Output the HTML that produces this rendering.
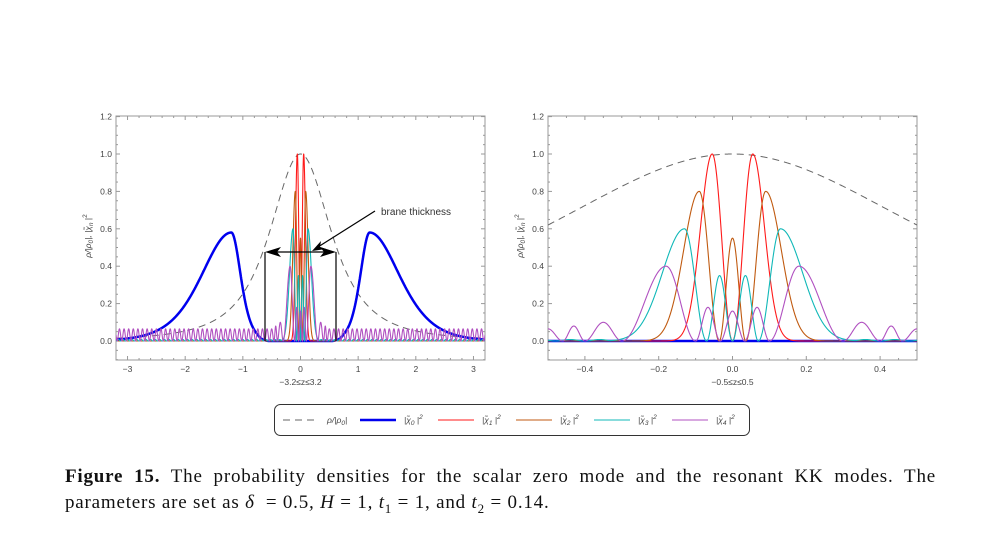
<!DOCTYPE html>
<html><head><meta charset="utf-8"><style>
body{margin:0;background:#fff;width:1002px;height:535px;overflow:hidden;position:relative;font-family:"Liberation Sans",sans-serif}
svg{position:absolute;left:0;top:0}
.cap{position:absolute;left:65px;width:871px;font-family:"Liberation Serif",serif;font-size:19px;letter-spacing:0.8px;color:#111;line-height:26px;white-space:nowrap}
</style></head><body>
<svg id="s" width="1002" height="535" xmlns="http://www.w3.org/2000/svg" font-family="Liberation Sans, sans-serif">
</svg>
<div class="cap" style="top:464px;text-align:justify;text-align-last:justify;white-space:normal"><b>Figure 15.</b> The probability densities for the scalar zero mode and the resonant KK modes. The</div>
<div class="cap" style="top:490px">parameters are set as <i>δ</i> &nbsp;= 0.5<i>, H</i> = 1<i>, t</i><sub style="font-size:13px">1</sub> = 1, and <i>t</i><sub style="font-size:13px">2</sub> = 0.14.</div>
<script>
const S=document.getElementById('s');let h='';
const Y0=341,YS=187;
function sq(x){return x*x;}
function rho(z){return Math.pow(1+1.5*z*z,-1.5);}
function blue(z){const a=Math.abs(z);if(a<1.2){const t=(a-1.2)/0.22;let v=0.58/sq(Math.cosh(t));if(a<0.75)v*=Math.max(0,(a-0.55)/0.2);return Math.max(0,v);}const t=(a-1.2)/0.7;return 0.58/sq(Math.cosh(t));}
function lobes(spec){return function(z){const a=Math.abs(z);
 for(const s of spec){if(a>=s[0]&&a<=s[1]){return s[2](a);}}return 0;};}
const sin2=(z0,z1,hh)=>a=>hh*sq(Math.sin(Math.PI*(a-z0)/(z1-z0)));
const rise=(z0,p,hh)=>a=>hh*sq(Math.sin(Math.PI/2*(a-z0)/(p-z0)));
const dec=(p,w,hh)=>a=>hh*Math.exp(-sq((a-p)/w));
const red=lobes([[0,0.055,rise(0,0.055,1)],[0.055,9,dec(0.055,0.045,1)]]);
const brown=lobes([[0,0.036,sin2(-0.036,0.036,0.55)],[0.036,0.09,rise(0.036,0.09,0.8)],[0.09,9,dec(0.09,0.06,0.8)]]);
const cyanT=a=>0.008*sq(Math.sin(Math.PI*a/0.08));
const cyan=lobes([[0,0.07,sin2(0,0.07,0.35)],[0.07,0.13,rise(0.07,0.13,0.6)],[0.13,9,a=>Math.max(dec(0.13,0.085,0.6)(a),a>0.3?cyanT(a):0)]]);
function purpleT(a){if(a<0.4)return sin2(0.3,0.4,0.1)(a);if(a<0.46)return sin2(0.4,0.46,0.08)(a);
 const p=0.08;return 0.065*sq(Math.sin(Math.PI*(a-0.46)/p));}
const purple=lobes([[0,0.033,sin2(-0.033,0.033,0.16)],[0.033,0.1,sin2(0.033,0.1,0.18)],[0.1,0.18,rise(0.1,0.18,0.4)],[0.18,0.3,a=>0.4*sq(Math.cos(Math.PI/2*(a-0.18)/0.12))],[0.3,99,purpleT]]);
function path(f,x0,x1,cx,sx,n){let d='';for(let i=0;i<=n;i++){const z=x0+(x1-x0)*i/n;const X=cx+z*sx,Y=Y0-f(z)*YS;d+=(i?'L':'M')+X.toFixed(2)+' '+Y.toFixed(2);}return d;}
function panel(L,R,zr,cx,ticks,minor,lab,ann){
 const sx=(R-L)/(2*zr);
 h+=`<defs><clipPath id="c${L}"><rect x="${L}" y="116" width="${R-L}" height="244"/></clipPath></defs>`;
 h+=`<rect x="${L}" y="116" width="${R-L}" height="244" fill="none" stroke="#999" stroke-width="1"/>`;
 h+=`<line x1="${L}" x2="${R}" y1="${Y0}" y2="${Y0}" stroke="#999"/>`;
 for(let k=-2;k<=24;k++){const v=k*0.05;const y=Y0-v*YS;const big=(k%4===0);
  h+=`<line x1="${L}" x2="${L+(big?4:2)}" y1="${y}" y2="${y}" stroke="#999"/><line x1="${R}" x2="${R-(big?4:2)}" y1="${y}" y2="${y}" stroke="#999"/>`;
  if(big&&k>=0)h+=`<text x="${L-4}" y="${y+3}" font-size="8.5" fill="#444" text-anchor="end">${v.toFixed(1)}</text>`;}
 for(const t of minor){const x=cx+t*sx;const big=ticks.some(k=>Math.abs(k-t)<1e-6);
  h+=`<line x1="${x}" x2="${x}" y1="360" y2="${360-(big?4:2)}" stroke="#999"/><line x1="${x}" x2="${x}" y1="116" y2="${116+(big?4:2)}" stroke="#999"/>`;}
 for(const t of ticks){const x=cx+t*sx;h+=`<text x="${x}" y="372" font-size="8.5" fill="#444" text-anchor="middle">${t<0?'−':''}${Math.abs(t).toFixed(zr<1?1:0)}</text>`;}
 h+=`<text x="${cx}" y="385" font-size="8.5" fill="#444" text-anchor="middle">${lab}</text>`;
 h+=`<text transform="translate(${L-25},236) rotate(-90)" font-size="8.5" fill="#444" text-anchor="middle" font-style="italic">ρ/|ρ<tspan font-size="6.5" dy="2">0</tspan><tspan dy="-2">|, |χ̃</tspan><tspan font-size="6.5" dy="2">n</tspan><tspan dy="-2" font-style="normal"> |</tspan><tspan font-size="6.5" dy="-4" font-style="normal">2</tspan></text>`;
 const n=zr>1?6000:1500;
 h+=`<g clip-path="url(#c${L})" fill="none" stroke-linejoin="round">`;
 h+=`<path d="${path(rho,-zr,zr,cx,sx,n)}" stroke="#666" stroke-width="1" stroke-dasharray="7,5"/>`;
 h+=`<path d="${path(blue,-zr,zr,cx,sx,n)}" stroke="#0000ee" stroke-width="2.5"/>`;
 h+=`<path d="${path(red,-zr,zr,cx,sx,n)}" stroke="#ff1a1a" stroke-width="1.1"/>`;
 h+=`<path d="${path(brown,-zr,zr,cx,sx,n)}" stroke="#c05a10" stroke-width="1.1"/>`;
 h+=`<path d="${path(cyan,-zr,zr,cx,sx,n)}" stroke="#10b8b8" stroke-width="1.1"/>`;
 h+=`<path d="${path(purple,-zr,zr,cx,sx,n)}" stroke="#b050c0" stroke-width="1.1"/>`;
 h+='</g>';
 if(ann){h+=`<g stroke="#000" stroke-width="1.2"><line x1="265" y1="252" x2="265" y2="341"/><line x1="336" y1="252" x2="336" y2="341"/><line x1="268" y1="252" x2="333" y2="252"/><line x1="375" y1="211" x2="318" y2="247"/></g>
 <polygon points="265,252 281,247 277,252 281,257" fill="#000"/><polygon points="336,252 320,247 324,252 320,257" fill="#000"/>
 <polygon points="312,251 321,241 320,247 326,249" fill="#000"/>
 <text x="381" y="215" font-size="10" fill="#333">brane thickness</text>`;}
}
const m1=[];for(let k=-16;k<=16;k++)m1.push(k/5);
panel(116,485,3.2,300.5,[-3,-2,-1,0,1,2,3],m1,'−3.2≤z≤3.2',true);
const m2=[];for(let k=-10;k<=10;k++)m2.push(k/20);
panel(548,917,0.5,732.5,[-0.4,-0.2,0,0.2,0.4],m2,'−0.5≤z≤0.5',false);
h+=`<rect x="274.5" y="404.5" width="475" height="31" rx="6" fill="#fff" stroke="#333"/>`;
const it=[[283,'#666',1,'7,5','ρ/|ρ<tspan font-size="6.5" dy="2">0</tspan><tspan dy="-2">|</tspan>'],[360,'#0000ee',2.5,'','|χ̃<tspan font-size="6.5" dy="2">0</tspan><tspan dy="-2"> |</tspan><tspan font-size="6.5" dy="-4">2</tspan>']];
const cols=['#ff1a1a','#c05a10','#10b8b8','#b050c0'];
cols.forEach((c,i)=>it.push([438+i*78,c,1.1,'',`|χ̃<tspan font-size="6.5" dy="2">${i+1}</tspan><tspan dy="-2"> |</tspan><tspan font-size="6.5" dy="-4">2</tspan>`]));
for(const e of it){const [x,c,w,da,t]=e;h+=`<line x1="${x}" x2="${x+36}" y1="420" y2="420" stroke="${c}" stroke-width="${w}" ${da?`stroke-dasharray="${da}"`:''}/>`;
 h+=`<text x="${x+44}" y="423" font-size="8.5" fill="#444" font-style="italic">${t}</text>`;}
S.innerHTML=h;
</script>
</body></html>
